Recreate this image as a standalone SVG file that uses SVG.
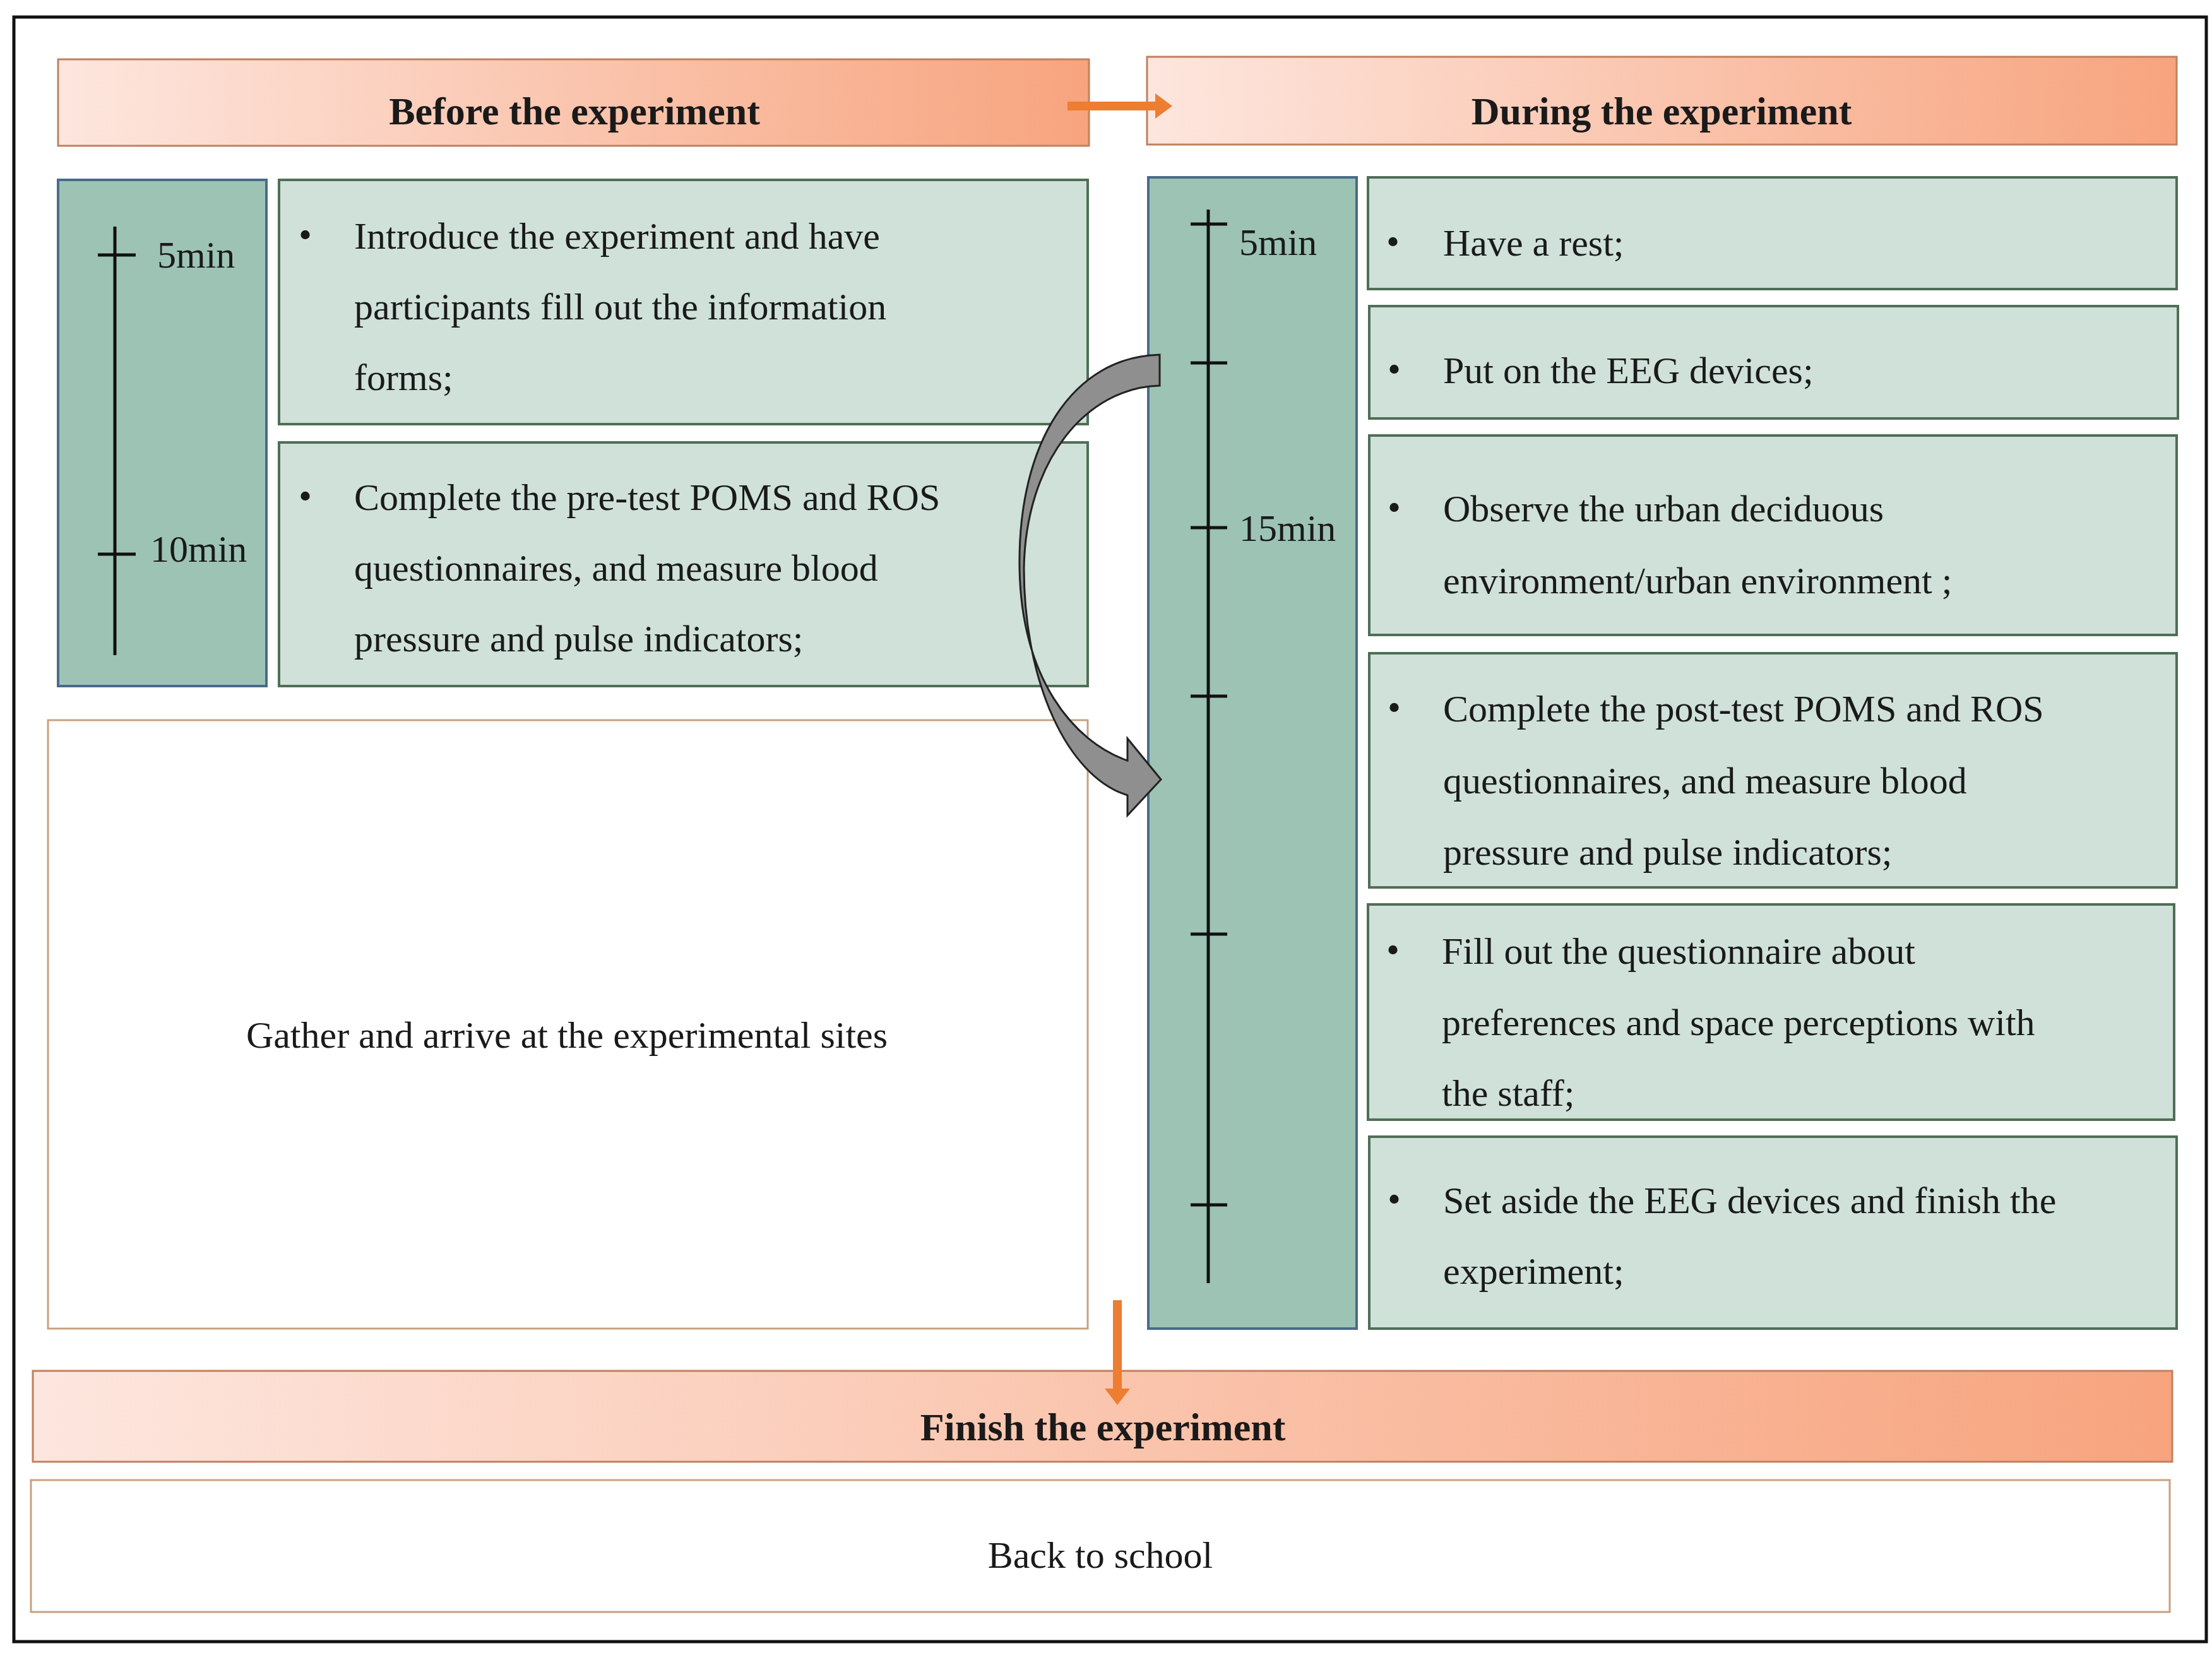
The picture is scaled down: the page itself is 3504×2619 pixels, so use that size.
<svg xmlns="http://www.w3.org/2000/svg" width="3504" height="2619" viewBox="0 0 3504 2619">
<style>
.t{font-family:"Liberation Serif",serif;font-size:60px;fill:#1a1a1a}
.h{font-family:"Liberation Serif",serif;font-size:62px;font-weight:bold;fill:#1a1a1a;text-anchor:middle}
.box{fill:#cfe1d9;stroke:#4f6e56;stroke-width:4}
.tl{fill:#9dc3b5;stroke:#4a6a8c;stroke-width:4}
.hd{fill:url(#g);stroke:#c0805e;stroke-width:3}
.ln{stroke:#111;stroke-width:5}
</style>
<defs>
<linearGradient id="g" x1="0" x2="1" y1="0" y2="0"><stop offset="0" stop-color="#fde6de"/><stop offset="1" stop-color="#f7a47e"/></linearGradient>
</defs>
<rect x="22" y="27" width="3473" height="2574" fill="#fff" stroke="#111" stroke-width="5"/>
<g id="before-header"><rect class="hd" x="92" y="94" width="1633" height="137"/><text class="h" x="910" y="197">Before the experiment</text></g>
<g id="during-header"><rect class="hd" x="1817" y="90" width="1631" height="139"/><text class="h" x="2632" y="197">During the experiment</text></g>
<g id="left-timeline"><rect class="tl" x="92" y="285" width="330" height="802"/>
<line class="ln" x1="182" y1="359" x2="182" y2="1038"/><line class="ln" x1="155" y1="404" x2="215" y2="404"/><line class="ln" x1="155" y1="878" x2="215" y2="878"/>
<text class="t" x="249" y="424">5min</text><text class="t" x="238" y="890">10min</text></g>
<g id="b1"><rect class="box" x="442" y="285" width="1281" height="387"/>
<text class="t" x="473" y="392">•</text><text class="t" x="561" y="394">Introduce the experiment and have</text>
<text class="t" x="561" y="506">participants fill out the information</text><text class="t" x="561" y="618">forms;</text></g>
<g id="b2"><rect class="box" x="442" y="701" width="1281" height="386"/>
<text class="t" x="473" y="806">•</text><text class="t" x="561" y="808">Complete the pre-test POMS and ROS</text>
<text class="t" x="561" y="920">questionnaires, and measure blood</text><text class="t" x="561" y="1032">pressure and pulse indicators;</text></g>
<g id="gather"><rect x="76" y="1141" width="1647" height="964" fill="#fff" stroke="#c9a07e" stroke-width="3"/>
<text class="t" x="898" y="1660" text-anchor="middle">Gather and arrive at the experimental sites</text></g>
<g id="right-timeline"><rect class="tl" x="1819" y="281" width="330" height="1824"/>
<line class="ln" x1="1914" y1="332" x2="1914" y2="2033"/>
<line class="ln" x1="1886" y1="355" x2="1944" y2="355"/><line class="ln" x1="1886" y1="575" x2="1944" y2="575"/><line class="ln" x1="1886" y1="836" x2="1944" y2="836"/><line class="ln" x1="1886" y1="1103" x2="1944" y2="1103"/><line class="ln" x1="1886" y1="1480" x2="1944" y2="1480"/><line class="ln" x1="1886" y1="1909" x2="1944" y2="1909"/>
<text class="t" x="1963" y="404">5min</text><text class="t" x="1963" y="857">15min</text></g>
<g id="r1"><rect class="box" x="2167" y="281" width="1281" height="177"/><text class="t" x="2196" y="403">•</text><text class="t" x="2286" y="405">Have a rest;</text></g>
<g id="r2"><rect class="box" x="2169" y="485" width="1281" height="178"/><text class="t" x="2198" y="605">•</text><text class="t" x="2286" y="607">Put on the EEG devices;</text></g>
<g id="r3"><rect class="box" x="2169" y="690" width="1279" height="316"/><text class="t" x="2198" y="824">•</text><text class="t" x="2286" y="826">Observe the urban deciduous</text><text class="t" x="2286" y="940">environment/urban environment ;</text></g>
<g id="r4"><rect class="box" x="2169" y="1035" width="1279" height="371"/><text class="t" x="2198" y="1141">•</text><text class="t" x="2286" y="1143">Complete the post-test POMS and ROS</text><text class="t" x="2286" y="1257">questionnaires, and measure blood</text><text class="t" x="2286" y="1370">pressure and pulse indicators;</text></g>
<g id="r5"><rect class="box" x="2167" y="1433" width="1277" height="341"/><text class="t" x="2196" y="1525">•</text><text class="t" x="2284" y="1527">Fill out the questionnaire about</text><text class="t" x="2284" y="1640">preferences and space perceptions with</text><text class="t" x="2284" y="1752">the staff;</text></g>
<g id="r6"><rect class="box" x="2169" y="1801" width="1279" height="304"/><text class="t" x="2198" y="1920">•</text><text class="t" x="2286" y="1922">Set aside the EEG devices and finish the</text><text class="t" x="2286" y="2034">experiment;</text></g>
<g id="finish-header"><rect class="hd" x="52" y="2172" width="3389" height="144"/><text class="h" x="1747" y="2282">Finish the experiment</text></g>
<g id="back"><rect x="49" y="2345" width="3388" height="209" fill="#fff" stroke="#c9a07e" stroke-width="3"/><text class="t" x="1743" y="2484" text-anchor="middle">Back to school</text></g>
<g id="connectors">
<path d="M1691,161 H1830 V148 L1857,168 L1830,188 V175 H1691 Z" fill="#ed7d31"/>
<path d="M1763,2060 H1777 V2200 H1790 L1770,2226 L1750,2200 H1763 Z" fill="#ed7d31"/>
<path d="M1837,562 C1700,565 1612,700 1615,900 C1618,1075 1700,1175 1786,1205 L1786,1170 L1839,1235 L1786,1292 L1786,1260 C1690,1230 1622,1080 1622,900 C1625,730 1720,614 1837,611 Z" fill="#8f8f8f" stroke="#222" stroke-width="3"/>
</g>
</svg>
